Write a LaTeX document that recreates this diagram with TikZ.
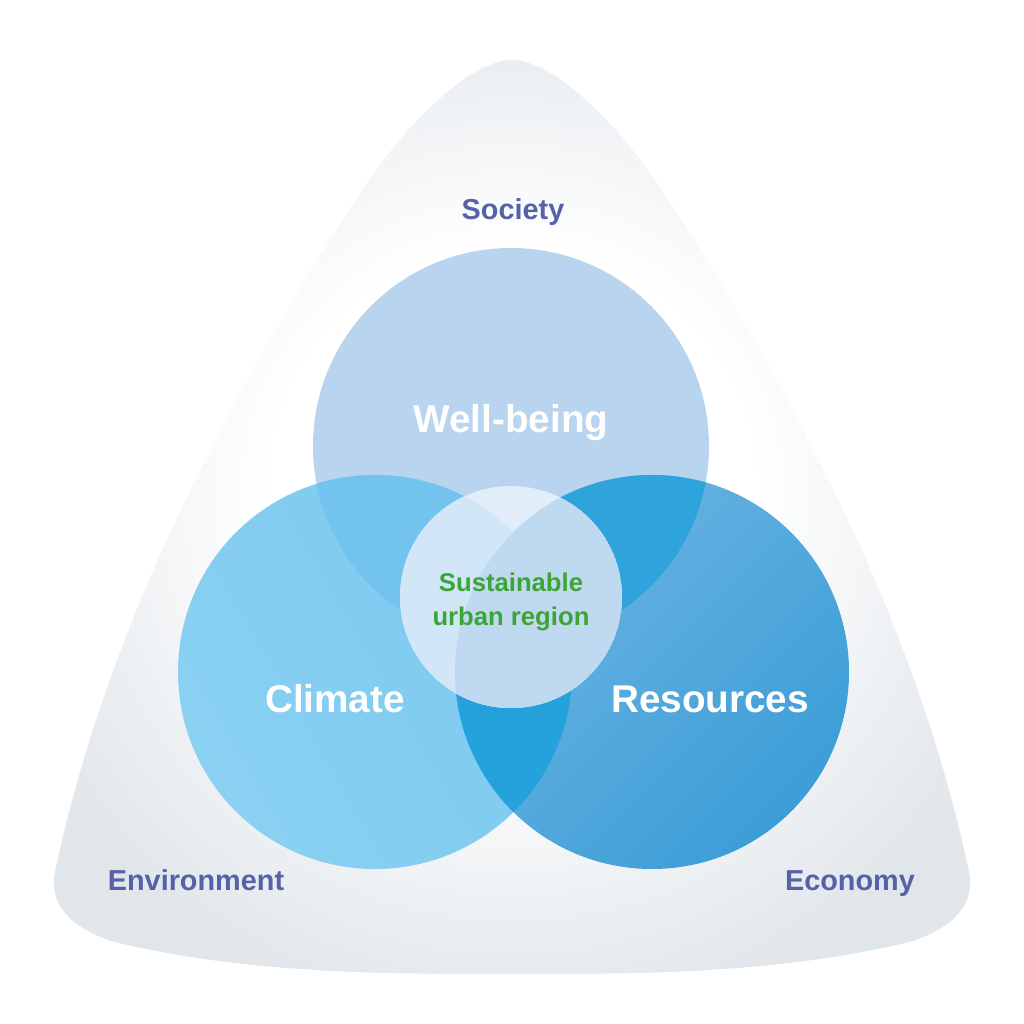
\documentclass[tikz,border=0pt]{standalone}
\usepackage{fontspec}
\setmainfont{Liberation Sans}

\definecolor{bggray}{HTML}{E1E6EB}
\definecolor{labelblue}{HTML}{5561A9}
\definecolor{coregreen}{HTML}{3BA535}
\definecolor{wellfill}{HTML}{B8D4EF}
\definecolor{climlight}{HTML}{8AD1F2}
\definecolor{climdark}{HTML}{7BC8EF}
\definecolor{reslight}{HTML}{6DB6E3}
\definecolor{resdark}{HTML}{3C9DD7}
\definecolor{wellclim}{HTML}{72C3EE}
\definecolor{wellres}{HTML}{2FA3DB}
\definecolor{climres}{HTML}{25A2DC}
\definecolor{coretop}{HTML}{E1EDF8}
\definecolor{coreclim}{HTML}{D1E7F7}
\definecolor{coreres}{HTML}{BFD9F1}

\pgfdeclareradialshading{backglow}{\pgfpoint{0bp}{2bp}}{color(0bp)=(white); color(13bp)=(white); color(29bp)=(bggray); color(50bp)=(bggray)}

\begin{document}
\begin{tikzpicture}[x=0.01cm,y=-0.01cm,
   lbl/.style={text=labelblue,anchor=base,font=\fontsize{8.2}{10}\selectfont\bfseries},
   big/.style={text=white,anchor=base,font=\fontsize{11}{13}\selectfont\bfseries},
   core/.style={text=coregreen,anchor=base,align=center,font=\fontsize{7.3}{9.4}\selectfont\bfseries}]

   \useasboundingbox (0,0) rectangle (1024,1024);

   \coordinate (wb) at (511,446);
   \coordinate (cl) at (375,672);
   \coordinate (rs) at (652,672);
   \coordinate (ct) at (511,597);

   % rounded triangle behind the circles
   \shade[shading=backglow] (512,60) .. controls (470,60) and (405,125) .. (362,190)
      .. controls (245,370) and (110,610) .. (55,872)
      .. controls (49,905) and (70,928) .. (115,942)
      .. controls (250,975) and (400,974) .. (512,974)
      .. controls (624,974) and (774,975) .. (909,942)
      .. controls (954,928) and (975,905) .. (969,872)
      .. controls (914,610) and (779,370) .. (662,190)
      .. controls (619,125) and (554,60) .. (512,60) -- cycle;

   % the three circles
   \fill[wellfill] (wb) circle (198);
   \shade[top color=climdark,bottom color=climlight,shading angle=-60] (cl) circle (197);
   \shade[top color=reslight,bottom color=resdark,shading angle=45] (rs) circle (197);

   % overlaps
   \begin{scope}
      \clip (cl) circle (197);
      \fill[wellclim] (wb) circle (198);
      \fill[climres] (rs) circle (197);
   \end{scope}
   \begin{scope}
      \clip (rs) circle (197);
      \clip (wb) circle (198);
      \fill[wellres] (rs) circle (197);
   \end{scope}

   % core circle
   \begin{scope}
      \clip (ct) circle (111);
      \fill[coretop] (ct) circle (111);
      \fill[coreclim] (cl) circle (197);
      \fill[coreres] (rs) circle (197);
   \end{scope}

   \node[lbl] (society) at (513,219) {Society};
   \node[big] (wellbeing) at (511,432) {Well-being};
   \node[big] (climate) at (335,712) {Climate};
   \node[big] (resources) at (710,712) {Resources};
   \node[core] (urban) at (511,625) {Sustainable\\urban region};
   \node[lbl] (environment) at (196,890) {Environment};
   \node[lbl] (economy) at (850,890) {Economy};

\end{tikzpicture}
\end{document}
